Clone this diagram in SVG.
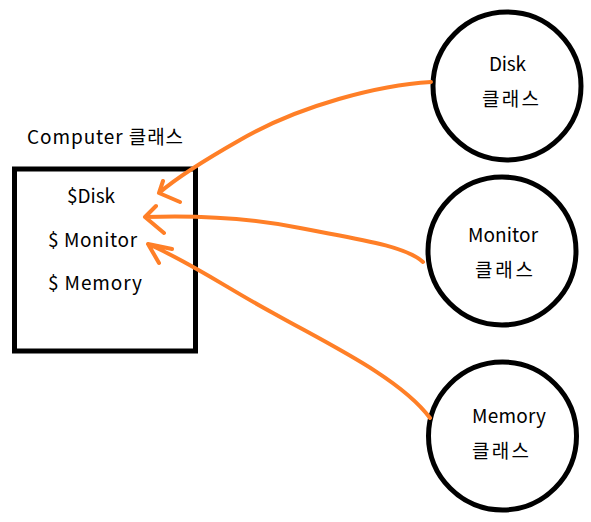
<svg xmlns="http://www.w3.org/2000/svg" width="591" height="522" viewBox="0 0 591 522">
<style>
text{font-family:"Noto Sans CJK KR","Noto Sans",sans-serif;font-size:19px;fill:#000}
.node{fill:none;stroke:#000;stroke-width:5}
.arr{fill:none;stroke:#ff7f27;stroke-width:4;stroke-linecap:round;stroke-linejoin:round}
</style>
<rect width="591" height="522" fill="#fff"/>
<g id="computer">
<text x="27" y="144" textLength="156" lengthAdjust="spacing">Computer 클래스</text>
<rect class="node" x="14.5" y="169" width="181" height="182"/>
<text x="67" y="203" textLength="48" lengthAdjust="spacing">$Disk</text>
<text x="48" y="247" textLength="89" lengthAdjust="spacing">$ Monitor</text>
<text x="48" y="290" textLength="94" lengthAdjust="spacing">$ Memory</text>
</g>
<g id="disk">
<circle class="node" cx="507" cy="86" r="74"/>
<text x="489" y="71" textLength="37" lengthAdjust="spacing">Disk</text>
<text x="482" y="106" textLength="57" lengthAdjust="spacing">클래스</text>
</g>
<g id="monitor">
<circle class="node" cx="502" cy="251" r="74"/>
<text x="468" y="242" textLength="70" lengthAdjust="spacing">Monitor</text>
<text x="475" y="277" textLength="58" lengthAdjust="spacing">클래스</text>
</g>
<g id="memory">
<circle class="node" cx="502.5" cy="436" r="74"/>
<text x="472" y="423" textLength="74" lengthAdjust="spacing">Memory</text>
<text x="472" y="458" textLength="57" lengthAdjust="spacing">클래스</text>
</g>
<g id="connectors">
<path class="arr" d="M431,82 C380,85 300,105 240,140 C210,157 180,175 159,193 M163,181 L159,193 L180,202"/>
<path class="arr" d="M423,262 C405,245 350,238 300,228 C250,218 200,215 145,217 M156,206 L145,217 L164,233"/>
<path class="arr" d="M430,418 C400,378 330,345 273,313 C230,290 190,262 148,244 M172,249 L148,244 L159,263"/>
</g>
</svg>
